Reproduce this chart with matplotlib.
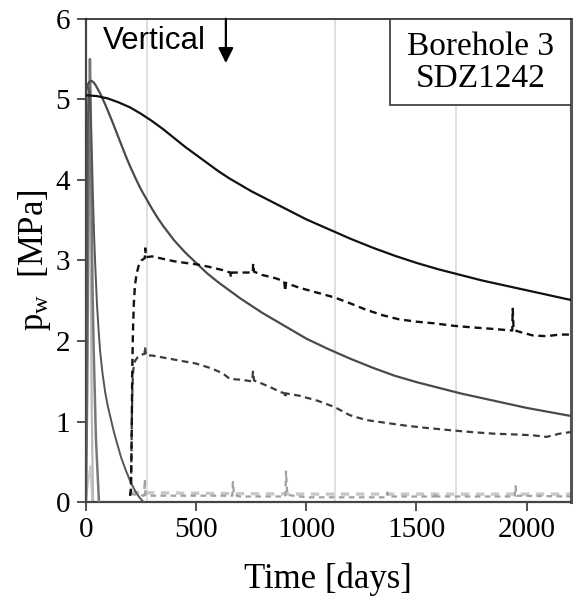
import numpy as np
import matplotlib
matplotlib.use("Agg")
import matplotlib.pyplot as plt
from matplotlib.patches import Rectangle

plt.rcParams["font.family"] = ["Liberation Serif", "DejaVu Serif"]
plt.rcParams["mathtext.fontset"] = "custom"
plt.rcParams["mathtext.rm"] = "Liberation Serif"
plt.rcParams["mathtext.it"] = "Liberation Serif:italic"

# --- pore water pressure series (days, MPa) ---
upper_solid_t = [0, 50, 100, 150, 200, 250, 300, 350, 400, 450, 500, 550, 600, 650, 700,
                 750, 800, 850, 900, 950, 1000, 1100, 1200, 1300, 1400, 1500, 1600, 1700,
                 1800, 1900, 2000, 2100, 2200]
upper_solid_p = [5.05, 5.04, 5.01, 4.96, 4.9, 4.82, 4.73, 4.63, 4.52, 4.41, 4.31, 4.21,
                 4.11, 4.02, 3.94, 3.86, 3.79, 3.72, 3.65, 3.58, 3.51, 3.39, 3.27, 3.16,
                 3.06, 2.97, 2.89, 2.82, 2.75, 2.69, 2.63, 2.57, 2.51]

mid_solid_t = [0, 8, 16, 25, 35, 45, 55, 65, 75, 90, 105, 120, 140, 160, 180, 200, 225,
               250, 275, 300, 325, 350, 375, 400, 450, 500, 550, 600, 650, 700, 750, 800,
               850, 900, 950, 1000, 1100, 1200, 1300, 1400, 1500, 1600, 1700, 1800, 1900,
               2000, 2100, 2200]
mid_solid_p = [5.1, 5.18, 5.22, 5.23, 5.21, 5.17, 5.12, 5.07, 5.01, 4.92, 4.82, 4.72,
               4.58, 4.44, 4.3, 4.17, 4.02, 3.88, 3.76, 3.64, 3.53, 3.43, 3.34, 3.25, 3.1,
               2.97, 2.84, 2.73, 2.63, 2.53, 2.44, 2.35, 2.27, 2.19, 2.11, 2.03, 1.9,
               1.78, 1.67, 1.57, 1.49, 1.42, 1.35, 1.29, 1.23, 1.17, 1.12, 1.07]

fast_solid_t = [0, 4, 8, 12, 17, 22, 27, 32, 37, 42, 50, 57, 64, 75, 88, 100, 113, 126,
                140, 159, 180, 204, 225, 245, 262]
fast_solid_p = [0, 2.5, 4.6, 5.15, 5.1, 4.75, 4.3, 3.75, 3.3, 2.95, 2.45, 2.15, 1.88,
                1.6, 1.35, 1.18, 1.03, 0.88, 0.74, 0.56, 0.4, 0.24, 0.13, 0.05, 0.0]

spike_t = [0, 6, 12, 18, 22, 25, 30, 35, 45, 59]
spike_p = [0, 1.5, 4.0, 5.5, 4.8, 3.75, 2.6, 1.9, 0.8, 0.0]

spike_light_t = [0, 5, 10, 15, 20, 26, 32]
spike_light_p = [0, 3.5, 5.0, 5.1, 3.5, 1.2, 0.0]

spike_low_t = [0, 12, 20, 28]
spike_low_p = [0, 0.3, 0.45, 0.0]

dash_black_t = [200, 204, 206, 208, 210, 213, 217, 222, 230, 240, 252, 267, 269, 272,
                300, 350, 400, 450, 505, 560, 620, 655, 658, 661, 720, 757, 759, 763,
                800, 860, 900, 904, 908, 970, 1050, 1129, 1197, 1270, 1347, 1420, 1500,
                1580, 1665, 1750, 1850, 1935, 1937, 1941, 1960, 2027, 2090, 2150, 2200]
dash_black_p = [0.08, 0.15, 0.5, 1.0, 1.6, 2.1, 2.45, 2.68, 2.84, 2.94, 3.0, 3.03, 3.15,
                3.04, 3.05, 3.02, 2.99, 2.97, 2.95, 2.92, 2.88, 2.85, 2.79, 2.85, 2.85,
                2.85, 2.96, 2.86, 2.82, 2.78, 2.74, 2.62, 2.72, 2.66, 2.6, 2.54, 2.47,
                2.39, 2.32, 2.27, 2.24, 2.22, 2.19, 2.17, 2.15, 2.13, 2.40, 2.14, 2.12,
                2.07, 2.06, 2.08, 2.08]

dash_gray_t = [200, 204, 206, 208, 211, 215, 222, 235, 250, 266, 268, 272, 300, 400, 500,
               570, 620, 653, 700, 755, 758, 763, 800, 850, 880, 902, 904, 908, 970,
               1050, 1129, 1197, 1270, 1347, 1450, 1550, 1665, 1750, 1850, 1950, 2027,
               2090, 2150, 2200]
dash_gray_p = [0.08, 0.15, 0.5, 1.0, 1.45, 1.65, 1.75, 1.8, 1.83, 1.84, 1.93, 1.82, 1.82,
               1.77, 1.72, 1.66, 1.6, 1.53, 1.52, 1.5, 1.62, 1.51, 1.47, 1.41, 1.37,
               1.35, 1.29, 1.35, 1.32, 1.26, 1.18, 1.08, 1.02, 0.99, 0.95, 0.92, 0.89,
               0.87, 0.85, 0.84, 0.83, 0.81, 0.85, 0.87]

base_a_t = [204, 264, 267, 270, 280, 400, 500, 664, 667, 672, 700, 800, 905, 908, 914,
            1000, 1200, 1365, 1368, 1372, 1583, 1586, 1590, 1800, 1946, 1950, 1955, 2200]
base_a_p = [0.1, 0.08, 0.28, 0.09, 0.08, 0.08, 0.08, 0.08, 0.25, 0.09, 0.07, 0.07, 0.07,
            0.38, 0.09, 0.06, 0.06, 0.06, 0.12, 0.07, 0.07, 0.12, 0.07, 0.07, 0.07, 0.2,
            0.08, 0.07]

base_b_t = [204, 500, 1000, 1500, 2200]
base_b_p = [0.12, 0.11, 0.1, 0.1, 0.1]

event_days = [277, 1129, 1678]

x_ticks = [0, 500, 1000, 1500, 2000]
y_ticks = [0, 1, 2, 3, 4, 5, 6]

fig = plt.figure(figsize=(5.77, 6.05), dpi=100)
ax = fig.add_axes([0.149, 0.170, 0.840, 0.799])

for d in event_days:
    ax.axvline(d, color="#dcdcdc", lw=1.3, zorder=0)

ax.plot(base_b_t, base_b_p, color="#c8c8c8", lw=2.4, ls=(0, (2.5, 2.0)), zorder=2)
ax.plot(base_a_t, base_a_p, color="#a0a0a0", lw=1.6, ls=(0, (2.5, 2.0)), zorder=2)
ax.plot(spike_low_t, spike_low_p, color="#c8c8c8", lw=1.3, zorder=2)
ax.plot(spike_light_t, spike_light_p, color="#b8b8b8", lw=1.6, zorder=2)
ax.plot(spike_t, spike_p, color="#777777", lw=1.8, zorder=3)
ax.plot(fast_solid_t, fast_solid_p, color="#555555", lw=1.4, zorder=3)
ax.plot(mid_solid_t, mid_solid_p, color="#4a4a4a", lw=1.6, zorder=3)
ax.plot(upper_solid_t, upper_solid_p, color="#111111", lw=1.6, zorder=4)
ax.plot(dash_gray_t, dash_gray_p, color="#3c3c3c", lw=1.6, ls=(0, (3.0, 2.0)), zorder=3)
ax.plot(dash_black_t, dash_black_p, color="#111111", lw=1.7, ls=(0, (3.0, 2.0)), zorder=4)

ax.set_xlim(0, 2200)
ax.set_ylim(0, 6)
ax.set_xticks(x_ticks)
ax.set_yticks(y_ticks)
ax.tick_params(axis="both", direction="out", length=6.5, width=1.2, labelsize=21,
               color="#333333", pad=4)
ax.tick_params(axis="y", pad=5)

for side in ["left", "bottom"]:
    ax.spines[side].set_linewidth(1.6)
    ax.spines[side].set_color("#444444")
ax.spines["right"].set_linewidth(2.2)
ax.spines["right"].set_color("#555555")
ax.spines["top"].set_linewidth(1.2)
ax.spines["top"].set_color("#222222")

ax.set_xlabel("Time [days]", fontsize=25, labelpad=14)
ax.set_ylabel(r"p$_\mathregular{w}$  [MPa]", fontsize=25, labelpad=2)

ax.text(0.142, 0.955, "Vertical", transform=ax.transAxes, fontsize=22.5,
        family=["Liberation Sans", "DejaVu Sans"], ha="center", va="center")
ax.annotate("", xy=(635, 5.45), xytext=(635, 6.0),
            arrowprops=dict(arrowstyle="-|>,head_width=0.45,head_length=0.9",
                            color="black", lw=1.6, shrinkA=0, shrinkB=0))

# identification box in the upper right corner
ax.add_patch(Rectangle((0.627, 0.822), 0.373, 0.178, transform=ax.transAxes,
                       facecolor="white", edgecolor="#333333", lw=1.2, zorder=5))
ax.text(0.8135, 0.909, "Borehole 3\nSDZ1242", transform=ax.transAxes, fontsize=24,
        ha="center", va="center", linespacing=1.1, zorder=6)

fig.savefig("out.png", dpi=100)
